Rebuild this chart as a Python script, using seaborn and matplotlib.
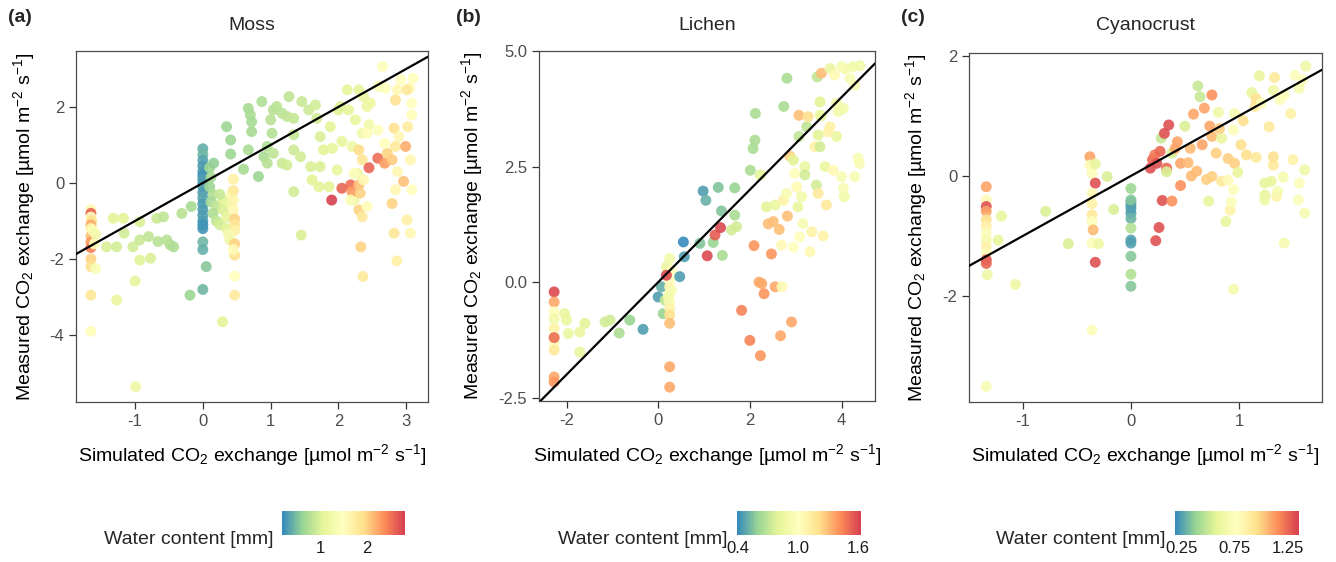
import numpy as np
import pandas as pd
import matplotlib.pyplot as plt
from matplotlib.colors import LinearSegmentedColormap, Normalize
from matplotlib.cm import ScalarMappable
import seaborn as sns

# ---- Moss: simulated vs measured CO2 exchange, coloured by water content
moss_sim = [
    -1.65, -1.65, -1.65, -1.64, -1.65, -1.65, -1.63, -1.65, -1.65, -1.65,
    -1.60, -1.65, -1.65, -1.58, -1.65, -1.65, -1.62, -1.58, -1.32, -1.17,
    -1.42, -1.27, -1.16, -1.03, -0.93, -0.93, -0.93, -1.00, -1.27, -0.77,
    -0.80, -0.68, -0.66, -0.58, -0.48, -0.43, -0.31, -0.17, -0.53, -0.99,
    -0.19, 0.29, 0.00, 0.00, 0.00, 0.00, 0.00, 0.00, 0.00, 0.00,
    0.00, 0.00, 0.00, 0.00, 0.00, 0.00, 0.00, 0.00, 0.00, 0.00,
    0.00, 0.05, 0.00, 0.10, 0.16, 0.12, 0.10, 0.15, 0.12, 0.20,
    0.15, 0.20, 0.25, 0.30, 0.30, 0.25, 0.35, 0.35, 0.40, 0.40,
    0.42, 0.45, 0.45, 0.45, 0.45, 0.47, 0.47, 0.47, 0.47, 0.47,
    0.47, 0.47, 0.45, 0.38, 0.35, 0.41, 0.41, 0.60, 0.67, 0.70,
    0.72, 0.72, 0.67, 0.82, 0.87, 0.90, 0.95, 1.00, 1.02, 1.04,
    1.09, 1.17, 1.24, 1.27, 1.34, 0.95, 1.04, 1.17, 1.24, 1.34,
    1.34, 1.34, 1.44, 1.45, 1.46, 1.56, 1.59, 1.61, 1.66, 1.68,
    1.73, 1.73, 1.71, 1.78, 1.86, 1.88, 1.91, 1.98, 2.00, 2.03,
    2.05, 2.13, 2.15, 2.20, 2.25, 2.28, 2.23, 2.30, 2.35, 2.37,
    2.42, 2.45, 2.47, 1.90, 2.05, 2.18, 2.20, 2.30, 2.32, 2.30,
    2.35, 2.33, 2.36, 2.30, 2.35, 2.45, 2.37, 2.58, 2.68, 2.72,
    2.79, 2.84, 2.82, 2.89, 2.84, 2.87, 2.92, 2.65, 2.69, 2.59,
    2.79, 2.84, 2.87, 2.96, 2.99, 3.01, 3.06, 2.82, 2.86, 3.08,
    3.06, 3.08, 3.08, 3.10, 3.05, 3.02, 3.01, 2.68, 2.58, 2.42,
    2.18, 2.23, 2.42,
]
moss_meas = [
    -0.70, -0.80, -0.90, -1.00, -1.10, -1.20, -1.30, -1.40, -1.55, -1.70,
    -1.60, -2.00, -2.20, -2.25, -2.95, -3.90, -1.25, -1.35, -0.93, -0.93,
    -1.68, -1.68, -1.32, -1.68, -1.02, -1.50, -2.03, -2.58, -3.08, -1.98,
    -1.41, -0.93, -1.54, -0.89, -1.63, -1.68, -0.80, -0.62, -1.50, -5.36,
    -2.95, -3.65, 0.90, 0.75, 0.60, 0.45, 0.30, 0.20, 0.10, 0.00,
    -0.10, -0.25, -0.40, -0.55, -0.70, -0.85, -1.00, -1.10, -1.20, -1.55,
    -1.75, -2.20, -2.80, 0.40, 0.52, 0.15, -0.10, -0.30, -0.50, -0.60,
    -0.80, -1.00, -1.10, -0.45, -0.70, -0.30, -1.20, -0.90, -0.55, -1.50,
    -0.30, 0.10, -0.20, -0.45, -0.70, -0.95, -1.10, -1.25, -1.60, -1.90,
    -2.45, -2.95, -1.75, -1.35, 1.48, 1.13, 0.76, 0.36, 1.96, 1.79,
    1.61, 1.35, 0.87, 0.17, 2.14, 0.69, 0.96, 1.66, 1.31, 1.92,
    2.01, 1.83, 1.75, 2.27, 1.70, 0.52, 0.78, 0.52, 0.47, -0.23,
    0.87, 1.27, 0.69, -1.37, 2.14, 1.92, 0.43, 0.08, 2.05, 1.70,
    1.22, 0.43, -0.10, 0.87, -0.10, 1.48, 0.91, 0.34, 1.92, 2.01,
    1.09, 2.45, 1.92, 0.96, 1.66, 0.25, -0.45, 2.45, 1.31, 2.27,
    2.01, 1.53, 2.10, -0.45, -0.14, -0.05, -0.23, -0.05, -0.27, -0.71,
    -0.89, -1.68, -2.46, 0.87, 0.61, 0.40, 0.08, 0.65, 0.52, 0.78,
    0.61, 0.96, 1.44, 1.22, 2.18, 2.45, 2.71, 3.06, 2.49, 2.54,
    -0.54, -0.18, 0.30, 0.04, 0.96, -0.97, -1.32, -1.32, -2.05, -0.18,
    0.61, 1.79, 2.10, 2.75, 2.49, 1.48, 2.45, 1.04, 1.39, 1.31,
    -0.45, 0.25, -0.62,
]
moss_water = [
    1.60, 2.60, 1.50, 1.90, 2.20, 1.60, 1.50, 2.10, 2.30, 2.45,
    1.50, 2.00, 1.90, 1.40, 1.85, 1.55, 1.40, 1.30, 1.05, 1.05,
    1.00, 0.95, 0.95, 0.95, 1.00, 0.90, 1.05, 1.10, 1.15, 1.00,
    0.85, 0.90, 0.80, 0.85, 0.75, 0.75, 0.80, 0.70, 0.80, 1.20,
    0.65, 1.05, 0.40, 0.45, 0.35, 0.30, 0.30, 0.25, 0.30, 0.30,
    0.35, 0.30, 0.35, 0.30, 0.30, 0.30, 0.30, 0.25, 0.25, 0.45,
    0.40, 0.55, 0.45, 0.65, 0.60, 0.70, 0.65, 0.75, 0.70, 0.85,
    0.75, 0.85, 0.95, 1.05, 1.00, 0.90, 1.05, 1.10, 1.20, 1.20,
    1.40, 1.70, 1.80, 1.65, 1.60, 2.00, 1.85, 1.70, 2.00, 1.90,
    1.50, 1.80, 1.55, 1.30, 0.65, 0.65, 0.65, 0.70, 0.70, 0.72,
    0.70, 0.70, 0.72, 0.65, 0.75, 0.72, 0.75, 0.80, 0.78, 0.80,
    0.82, 0.82, 0.85, 0.85, 0.88, 0.80, 0.85, 0.90, 0.95, 0.95,
    0.92, 0.88, 0.95, 1.00, 0.90, 0.92, 1.00, 1.05, 0.95, 0.95,
    1.00, 1.00, 1.05, 1.05, 1.05, 1.05, 1.08, 1.15, 1.05, 1.02,
    1.12, 1.08, 1.08, 1.20, 1.12, 1.20, 1.25, 1.10, 1.25, 1.15,
    1.20, 1.25, 1.20, 2.80, 2.60, 2.55, 2.30, 2.10, 2.00, 2.00,
    1.80, 2.00, 1.80, 1.95, 1.85, 2.60, 1.60, 2.55, 2.30, 2.00,
    2.05, 1.80, 1.90, 1.60, 1.90, 1.60, 1.50, 1.45, 1.50, 1.40,
    2.00, 1.60, 1.60, 2.10, 2.20, 1.70, 1.60, 1.85, 1.70, 1.50,
    1.60, 1.55, 1.50, 1.50, 1.55, 1.75, 1.80, 1.50, 1.45, 1.55,
    1.40, 1.45, 1.55,
]

# ---- Lichen
lichen_sim = [
    -2.27, -2.27, -2.27, -2.27, -2.27, -2.27, -2.27, -2.27, -2.27, -2.27,
    -2.27, -2.04, -2.00, -1.96, -1.71, -1.71, -1.60, -1.16, -1.05, -0.85,
    -0.62, -0.33, 0.00, 0.07, 0.11, 0.15, 0.18, 0.25, 0.29, 0.25,
    0.25, 0.25, 0.25, 0.25, 0.25, 0.25, 0.18, 0.25, 0.25, 0.29,
    0.22, 0.47, 0.55, 0.57, 0.91, 0.98, 1.04, 1.20, 1.24, 1.36,
    1.07, 1.31, 1.38, 1.40, 1.67, 1.67, 1.60, 1.71, 2.01, 2.07,
    2.11, 2.12, 2.23, 2.09, 1.82, 2.00, 2.23, 2.20, 2.26, 2.31,
    2.36, 2.40, 2.47, 2.51, 2.55, 2.55, 2.64, 2.69, 2.67, 2.70,
    2.73, 2.74, 2.81, 2.80, 2.82, 2.87, 2.91, 2.95, 2.95, 2.98,
    3.02, 3.05, 3.07, 3.09, 3.07, 3.13, 3.16, 3.20, 3.20, 3.24,
    3.27, 3.31, 3.35, 3.42, 3.45, 3.49, 3.47, 3.53, 3.53, 3.56,
    3.53, 3.60, 3.64, 3.67, 3.75, 3.75, 3.71, 3.82, 3.85, 3.89,
    3.89, 3.93, 4.00, 4.04, 4.04, 4.06, 4.07, 4.18, 4.25, 4.29,
    4.29, 4.36, 4.39, 4.40, 4.00, 3.49, 3.56,
]
lichen_meas = [
    -0.21, -0.43, -0.64, -0.79, -1.00, -1.18, -1.33, -1.47, -2.05, -2.16,
    -1.20, -0.68, -0.82, -1.11, -1.08, -1.51, -0.89, -0.86, -0.82, -1.10,
    -0.82, -1.02, -0.32, -0.10, -0.68, -0.39, 0.33, 0.51, 0.26, 0.04,
    -0.10, -0.25, -0.43, -0.57, -0.71, -0.89, 0.15, -1.83, -2.27, -0.17,
    -0.32, 0.12, 0.87, 0.55, 0.84, 1.97, 1.77, 0.86, 1.02, 1.18,
    0.57, 2.05, 1.54, 0.58, 2.04, 1.45, 1.13, 1.20, 2.42, 2.89,
    3.07, 3.65, 2.32, 0.79, -0.61, -1.26, -1.59, 0.00, -0.03, -0.25,
    1.63, 1.26, 0.61, 1.31, -0.10, 1.67, 1.14, 0.80, -1.16, -0.10,
    1.77, 3.80, 4.41, 1.92, 1.43, 2.73, -0.86, 2.64, 0.76, 2.35,
    2.06, 1.63, 3.15, 0.98, 3.61, 1.85, 1.27, 2.50, 2.32, 3.36,
    3.58, 0.66, 1.09, 2.93, 2.10, 1.92, 4.44, 3.90, 3.61, 4.52,
    2.93, 1.00, 2.50, 1.67, 4.62, 3.36, 3.25, 2.42, 4.48, 3.15,
    3.87, 3.69, 2.28, 3.76, 2.03, 1.85, 4.62, 4.41, 4.66, 4.26,
    2.28, 2.68, 2.57, 4.68, 4.66, 3.18, 3.60,
]
lichen_water = [
    1.60, 1.35, 1.00, 0.90, 1.10, 0.95, 1.00, 1.15, 1.35, 1.40,
    1.50, 0.85, 0.85, 0.85, 0.85, 0.85, 0.80, 0.75, 0.75, 0.65,
    0.60, 0.45, 0.45, 0.50, 0.60, 0.70, 0.85, 0.90, 1.00, 1.00,
    1.05, 1.00, 0.95, 1.10, 1.20, 1.30, 1.60, 1.35, 1.35, 0.95,
    0.90, 0.45, 0.40, 0.45, 0.55, 0.45, 0.50, 0.60, 1.55, 1.60,
    1.60, 0.55, 0.55, 0.65, 0.60, 0.65, 0.75, 0.75, 0.65, 0.65,
    0.65, 0.65, 0.80, 1.40, 1.45, 1.45, 1.40, 1.35, 1.35, 1.40,
    0.80, 1.30, 1.40, 1.30, 1.35, 0.85, 1.30, 1.05, 1.35, 1.05,
    1.10, 0.65, 0.65, 0.95, 1.30, 1.25, 1.35, 0.80, 1.00, 1.00,
    1.05, 0.85, 0.70, 1.00, 1.30, 0.90, 0.95, 0.85, 0.75, 0.70,
    1.20, 1.05, 1.10, 1.10, 0.75, 1.15, 0.70, 0.80, 0.90, 1.30,
    0.75, 1.10, 0.85, 1.15, 0.85, 1.10, 1.10, 1.05, 1.05, 0.85,
    0.90, 0.90, 0.95, 0.90, 0.95, 0.90, 0.90, 0.95, 0.90, 0.95,
    0.95, 0.95, 0.95, 0.90, 0.95, 0.80, 0.85,
]

# ---- Cyanocrust
cyano_sim = [
    -1.34, -1.34, -1.34, -1.34, -1.34, -1.34, -1.34, -1.34, -1.34, -1.34,
    -1.34, -1.34, -1.33, -1.34, -1.20, -1.23, -1.07, -0.79, -0.58, -0.38,
    -0.38, -0.36, -0.33, -0.33, -0.36, -0.36, -0.36, -0.36, -0.35, -0.36,
    -0.30, -0.33, -0.36, -0.22, -0.16, 0.00, 0.00, 0.00, 0.00, 0.00,
    0.00, 0.00, 0.00, 0.00, 0.00, 0.00, 0.00, 0.00, 0.18, 0.20,
    0.22, 0.27, 0.24, 0.28, 0.31, 0.35, 0.33, 0.33, 0.29, 0.26,
    0.23, 0.38, 0.38, 0.41, 0.43, 0.46, 0.46, 0.53, 0.50, 0.56,
    0.58, 0.55, 0.61, 0.62, 0.64, 0.66, 0.68, 0.70, 0.72, 0.73,
    0.75, 0.75, 0.75, 0.79, 0.81, 0.84, 0.84, 0.82, 0.88, 0.90,
    0.90, 0.92, 0.93, 0.95, 0.95, 0.96, 0.95, 0.96, 0.99, 1.04,
    1.02, 1.07, 1.12, 1.15, 1.16, 1.16, 1.19, 1.21, 1.24, 1.24,
    1.24, 1.28, 1.30, 1.32, 1.32, 1.33, 1.32, 1.35, 1.36, 1.38,
    1.41, 1.42, 1.42, 1.48, 1.50, 1.52, 1.56, 1.55, 1.61, 1.61,
    1.62, 1.59, 1.56,
]
cyano_meas = [
    -0.18, -0.40, -0.51, -0.59, -0.73, -0.84, -0.96, -1.07, -1.18, -1.29,
    -1.40, -1.46, -1.65, -3.51, -0.67, -1.07, -1.81, -0.59, -1.13, 0.32,
    0.18, 0.04, 0.20, -0.12, -0.29, -0.46, -0.65, -0.76, -0.90, -1.12,
    -1.13, -1.44, -2.57, -0.01, -0.56, -0.21, -0.43, -0.48, -0.54, -0.62,
    -0.71, -0.87, -1.07, -1.12, -1.34, -1.64, -1.84, -0.40, 0.13, 0.27,
    0.35, 0.41, 0.21, 0.63, 0.71, 0.85, 0.13, 0.07, -0.41, -0.86,
    -1.08, -0.42, 0.38, 0.46, 0.57, -0.16, 0.21, 0.22, 0.83, 0.00,
    1.03, 0.46, 0.08, 1.50, 1.32, 0.52, 1.13, -0.06, -0.42, 0.83,
    1.35, 0.66, -0.01, 0.38, 1.06, 0.63, -0.09, 0.79, -0.76, -0.07,
    0.29, -0.57, -0.43, -0.23, 0.77, 1.04, -1.89, 0.21, 0.06, 0.92,
    0.52, 0.35, 1.39, 1.16, 1.29, 0.31, 1.67, 1.21, -0.32, -0.12,
    -0.40, 0.82, -0.09, 0.18, 0.32, 1.64, 1.43, -0.34, -0.26, 1.27,
    -0.02, -1.12, 1.35, 1.04, 0.27, 1.68, -0.12, -0.40, 0.10, -0.62,
    1.83, 1.60, 1.46,
]
cyano_water = [
    1.10, 0.80, 1.30, 1.10, 0.95, 0.85, 0.75, 0.70, 0.85, 0.80,
    1.30, 1.25, 0.65, 0.72, 0.60, 0.60, 0.65, 0.55, 0.55, 1.10,
    0.80, 0.75, 0.60, 1.30, 0.80, 0.85, 0.90, 0.75, 1.05, 0.75,
    0.65, 1.30, 0.75, 0.55, 0.55, 0.40, 0.30, 0.25, 0.25, 0.25,
    0.30, 0.45, 0.25, 0.25, 0.35, 0.45, 0.35, 0.35, 1.30, 1.25,
    1.20, 1.25, 1.30, 0.50, 1.30, 1.30, 1.25, 0.55, 1.30, 1.30,
    1.30, 1.15, 0.55, 1.10, 1.10, 1.15, 1.10, 1.05, 0.55, 1.05,
    1.10, 1.05, 1.05, 0.50, 0.50, 1.10, 1.10, 1.00, 0.60, 1.10,
    1.15, 1.05, 1.00, 1.00, 0.65, 0.60, 0.90, 1.00, 0.60, 0.80,
    1.00, 0.85, 0.75, 0.75, 0.75, 0.70, 0.70, 1.00, 0.60, 0.95,
    0.95, 0.95, 0.60, 0.90, 0.95, 0.90, 0.60, 0.75, 0.60, 0.60,
    0.65, 0.90, 0.60, 0.90, 0.95, 0.90, 0.65, 0.85, 0.70, 0.75,
    0.70, 0.70, 0.75, 0.85, 0.85, 0.75, 0.75, 0.75, 0.65, 0.70,
    0.65, 0.75, 0.70,
]

# axis ticks / colour bar ticks
moss_xticks = [-1, 0, 1, 2, 3]
moss_yticks = [-4, -2, 0, 2]
lichen_xticks = [-2, 0, 2, 4]
lichen_yticks = [-2.5, 0.0, 2.5, 5.0]
lichen_ylabels = ["-2.5", "0.0", "2.5", "5.0"]
cyano_xticks = [-1, 0, 1]
cyano_yticks = [-2, 0, 2]
moss_wticks = [1, 2]
lichen_wticks = [0.4, 1.0, 1.6]
lichen_wlabels = ["0.4", "1.0", "1.6"]
cyano_wticks = [0.25, 0.75, 1.25]
cyano_wlabels = ["0.25", "0.75", "1.25"]

sns.set_theme(style="white")
plt.rcParams['font.family'] = ['Liberation Sans', 'DejaVu Sans']
plt.rcParams['mathtext.fontset'] = 'custom'
plt.rcParams['mathtext.rm'] = 'Liberation Sans'
plt.rcParams['mathtext.it'] = 'Liberation Sans:italic'
plt.rcParams['mathtext.bf'] = 'Liberation Sans:bold'
plt.rcParams['axes.unicode_minus'] = False

# reversed 7-class Spectral, like scale_colour_distiller
spectral = LinearSegmentedColormap.from_list(
    "spectral_r", ["#3288bd", "#99d594", "#e6f598", "#ffffbf", "#fee08b", "#fc8d59", "#d53e4f"])

W, H = 1336, 562
fig = plt.figure(figsize=(W / 100, H / 100), dpi=100)


def fig_box(left, top, right, bottom):
    return [left / W, 1 - bottom / H, (right - left) / W, (bottom - top) / H]


xlab = r"Simulated CO$_2$ exchange [µmol m$^{-2}$ s$^{-1}$]"
ylab = r"Measured CO$_2$ exchange [µmol m$^{-2}$ s$^{-1}$]"

panels = [
    dict(sim=moss_sim, meas=moss_meas, water=moss_water, title="Moss", tag="(a)",
         box=(76, 51, 428, 402), xlim=(-1.87, 3.32), ylim=(-5.76, 3.47),
         xt=moss_xticks, yt=moss_yticks, ytl=[str(v) for v in moss_yticks],
         cbox=(282, 511, 405, 535), clim=(0.18, 2.82),
         ct=moss_wticks, ctl=[str(v) for v in moss_wticks], ylab_x=24, tag_x=8),
    dict(sim=lichen_sim, meas=lichen_meas, water=lichen_water, title="Lichen", tag="(b)",
         box=(539, 51, 875, 401), xlim=(-2.6, 4.73), ylim=(-2.57, 5.0),
         xt=lichen_xticks, yt=lichen_yticks, ytl=lichen_ylabels,
         cbox=(737, 511, 861, 535), clim=(0.39, 1.63),
         ct=lichen_wticks, ctl=lichen_wlabels, ylab_x=472, tag_x=456),
    dict(sim=cyano_sim, meas=cyano_meas, water=cyano_water, title="Cyanocrust", tag="(c)",
         box=(969, 53, 1322, 402), xlim=(-1.5, 1.77), ylim=(-3.77, 2.05),
         xt=cyano_xticks, yt=cyano_yticks, ytl=[str(v) for v in cyano_yticks],
         cbox=(1175, 511, 1299, 535), clim=(0.19, 1.35),
         ct=cyano_wticks, ctl=cyano_wlabels, ylab_x=916, tag_x=901),
]

for p in panels:
    df = pd.DataFrame({"sim": p["sim"], "meas": p["meas"], "water": p["water"]})
    norm = Normalize(*p["clim"])
    ax = fig.add_axes(fig_box(*p["box"]))
    sns.scatterplot(data=df, x="sim", y="meas", hue="water", palette=spectral,
                    hue_norm=norm, s=62, linewidth=0, alpha=0.9, legend=False, ax=ax)
    ax.axline((0, 0), slope=1, color="black", lw=1.6, zorder=3)
    ax.set_xlim(*p["xlim"])
    ax.set_ylim(*p["ylim"])
    ax.set_xticks(p["xt"])
    ax.set_xticklabels([str(v) for v in p["xt"]])
    ax.set_yticks(p["yt"])
    ax.set_yticklabels(p["ytl"])
    ax.tick_params(axis="both", which="both", direction="out", length=5, width=0.9,
                   color="#333333", labelcolor="#4d4d4d", labelsize=12, pad=3.5,
                   bottom=True, left=True)
    for sp in ax.spines.values():
        sp.set_color("#4d4d4d")
        sp.set_linewidth(0.9)

    ax.set_xlabel(xlab, fontsize=14, color="black")
    ax.set_ylabel(ylab, fontsize=14, color="black")
    ax.xaxis.label.set_va("center")
    ax.yaxis.label.set_va("center")
    left, top, right, bottom = p["box"]
    ax.xaxis.set_label_coords((left + right) / 2 / W, 1 - 455 / H, transform=fig.transFigure)
    ax.yaxis.set_label_coords(p["ylab_x"] / W, 1 - (top + bottom) / 2 / H, transform=fig.transFigure)

    fig.text((left + right) / 2 / W, 1 - 25 / H, p["title"], fontsize=14,
             ha="center", va="center")
    fig.text(p["tag_x"] / W, 1 - 18 / H, p["tag"], fontsize=14, fontweight="bold",
             ha="left", va="center")

    # colour bar legend
    cax = fig.add_axes(fig_box(*p["cbox"]))
    cb = fig.colorbar(ScalarMappable(norm=norm, cmap=spectral), cax=cax, orientation="horizontal")
    cb.outline.set_visible(False)
    cb.set_ticks(p["ct"])
    cb.set_ticklabels(p["ctl"])
    cax.minorticks_off()
    cax.tick_params(axis="x", direction="in", length=5, width=0.8, colors="white",
                    labelcolor="#1a1a1a", labelsize=12, top=True, bottom=True, pad=4)
    cl, ct_, cr, cbm = p["cbox"]
    fig.text((cl - 9) / W, 1 - 539 / H, "Water content [mm]", fontsize=14,
             ha="right", va="center")

fig.savefig("out.png", dpi=100)
